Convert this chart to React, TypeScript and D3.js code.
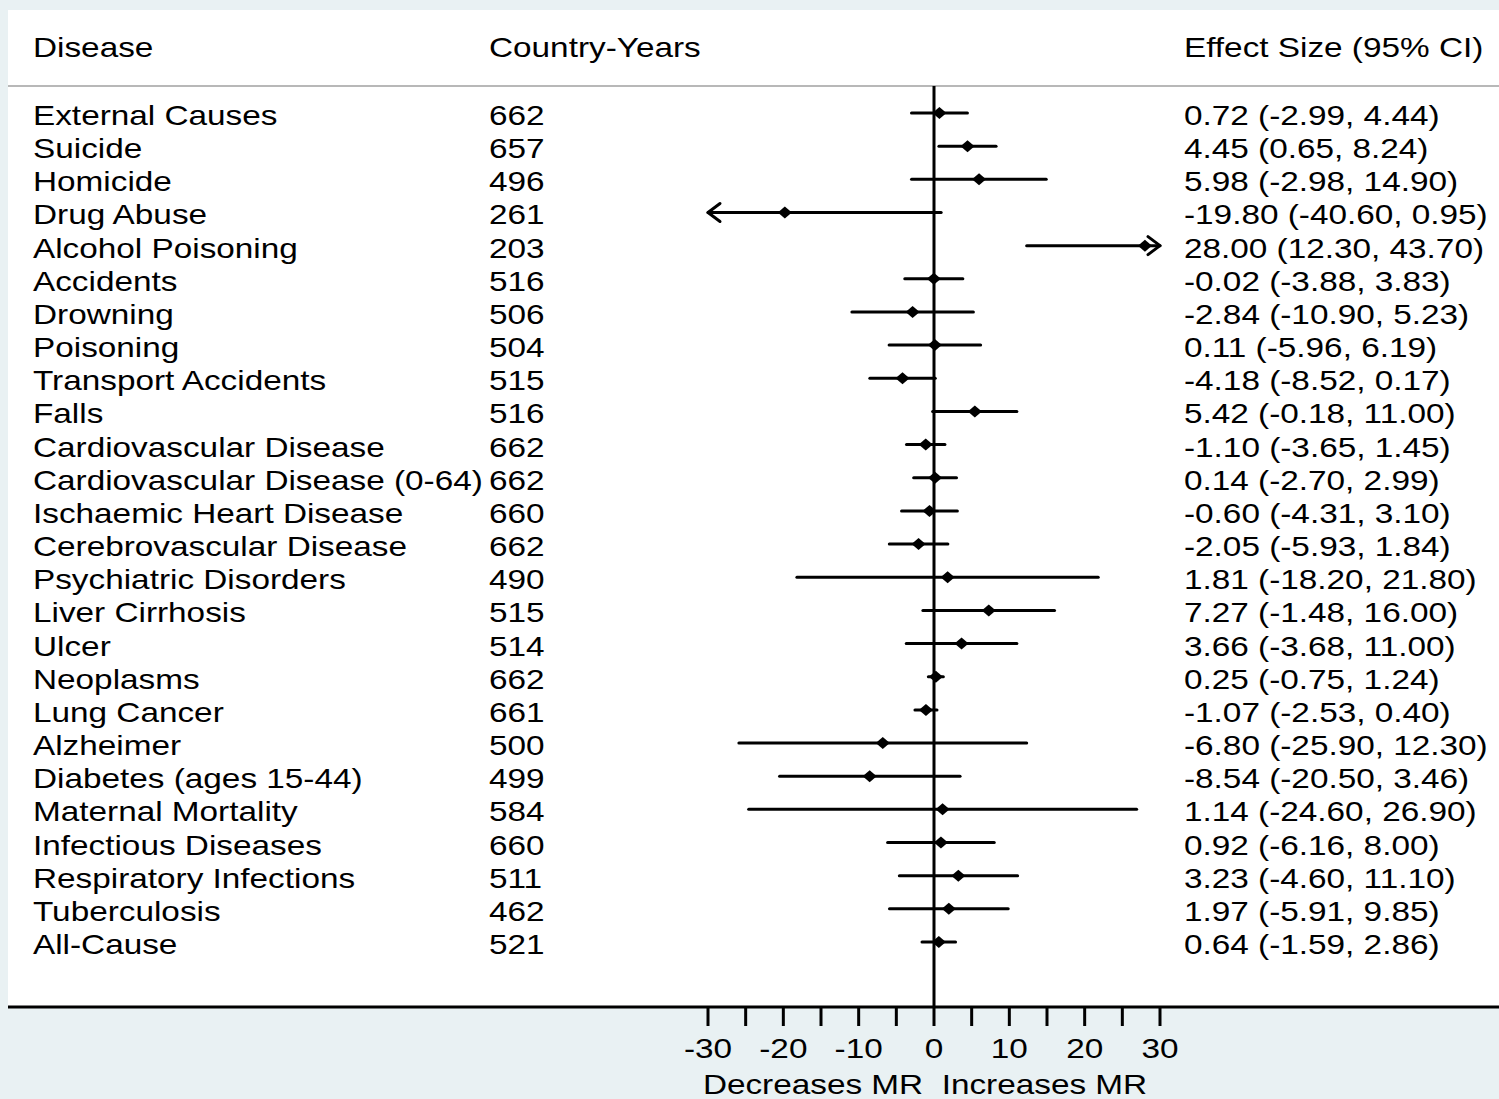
import React from "react";
import * as d3 from "d3";

const diseases = ["External Causes","Suicide","Homicide","Drug Abuse","Alcohol Poisoning","Accidents","Drowning","Poisoning","Transport Accidents","Falls","Cardiovascular Disease","Cardiovascular Disease (0-64)","Ischaemic Heart Disease","Cerebrovascular Disease","Psychiatric Disorders","Liver Cirrhosis","Ulcer","Neoplasms","Lung Cancer","Alzheimer","Diabetes (ages 15-44)","Maternal Mortality","Infectious Diseases","Respiratory Infections","Tuberculosis","All-Cause"];
const countryYears = [662,657,496,261,203,516,506,504,515,516,662,662,660,662,490,515,514,662,661,500,499,584,660,511,462,521];
const effect = [0.72,4.45,5.98,-19.80,28.00,-0.02,-2.84,0.11,-4.18,5.42,-1.10,0.14,-0.60,-2.05,1.81,7.27,3.66,0.25,-1.07,-6.80,-8.54,1.14,0.92,3.23,1.97,0.64];
const lower = [-2.99,0.65,-2.98,-40.60,12.30,-3.88,-10.90,-5.96,-8.52,-0.18,-3.65,-2.70,-4.31,-5.93,-18.20,-1.48,-3.68,-0.75,-2.53,-25.90,-20.50,-24.60,-6.16,-4.60,-5.91,-1.59];
const upper = [4.44,8.24,14.90,0.95,43.70,3.83,5.23,6.19,0.17,11.00,1.45,2.99,3.10,1.84,21.80,16.00,11.00,1.24,0.40,12.30,3.46,26.90,8.00,11.10,9.85,2.86];
const tickValues = [-30,-25,-20,-15,-10,-5,0,5,10,15,20,25,30];
const tickLabels = [-30,-20,-10,0,10,20,30];

const fmt = (v: number) => v.toFixed(2);
const font = "Liberation Sans, Arial, Helvetica, sans-serif";
const FS = 28;
const SX = 1.19;

function T({ x, y, children, anchor = "start" }: { x: number; y: number; children: any; anchor?: string }) {
  return (
    <text transform={`translate(${x},${y}) scale(${SX},1)`} textAnchor={anchor} fontFamily={font} fontSize={FS} fill="#000" style={{ whiteSpace: "pre" }}>
      {children}
    </text>
  );
}

export default function App() {
  const W = 1499, H = 1099;
  const x = d3.scaleLinear().domain([-30, 30]).range([708, 1160]);
  const y = d3.scaleLinear().domain([0, diseases.length - 1]).range([113, 942]);
  const axisY = 1007;
  const diamond = (cx: number, cy: number) => `M${cx - 7},${cy} L${cx},${cy - 6} L${cx + 7},${cy} L${cx},${cy + 6} Z`;
  return (
    <svg width={W} height={H} style={{ position: "absolute", left: 0, top: 0, display: "block" }}>
      <rect x={0} y={0} width={W} height={H} fill="#e9f1f3" />
      <rect x={8} y={10} width={W - 8} height={axisY - 10} fill="#ffffff" />
      <line x1={8} x2={W} y1={86} y2={86} stroke="#b8b8b8" strokeWidth={2} />
      <T x={33} y={57}>Disease</T>
      <T x={489} y={57}>Country-Years</T>
      <T x={1184} y={57}>Effect Size (95% CI)</T>
      <line x1={x(0)} x2={x(0)} y1={86} y2={axisY} stroke="#000" strokeWidth={3} />
      {diseases.map((d, i) => {
        const cy = y(i);
        const lo = Math.max(lower[i], -30);
        const hi = Math.min(upper[i], 30);
        const xl = x(lo), xh = x(hi);
        return (
          <g key={d}>
            <T x={33} y={cy + 12}>{d}</T>
            <T x={489} y={cy + 12}>{countryYears[i]}</T>
            <T x={1184} y={cy + 12}>{`${fmt(effect[i])} (${fmt(lower[i])}, ${fmt(upper[i])})`}</T>
            <line x1={xl} x2={xh} y1={cy} y2={cy} stroke="#000" strokeWidth={3} strokeLinecap="round" />
            {lower[i] < -30 && (
              <path d={`M${xl + 12},${cy - 9} L${xl},${cy} L${xl + 12},${cy + 9}`} fill="none" stroke="#000" strokeWidth={3} strokeLinecap="round" strokeLinejoin="round" />
            )}
            {upper[i] > 30 && (
              <path d={`M${xh - 12},${cy - 9} L${xh},${cy} L${xh - 12},${cy + 9}`} fill="none" stroke="#000" strokeWidth={3} strokeLinecap="round" strokeLinejoin="round" />
            )}
            <path d={diamond(x(effect[i]), cy)} fill="#000" />
          </g>
        );
      })}
      <line x1={8} x2={W} y1={axisY} y2={axisY} stroke="#000" strokeWidth={3} />
      {tickValues.map(t => (
        <line key={t} x1={x(t)} x2={x(t)} y1={axisY} y2={axisY + 19} stroke="#000" strokeWidth={3} />
      ))}
      {tickLabels.map(t => (
        <T key={t} x={x(t)} y={1058} anchor="middle">{t}</T>
      ))}
      <T x={925} y={1094} anchor="middle">{"Decreases MR  Increases MR"}</T>
    </svg>
  );
}
